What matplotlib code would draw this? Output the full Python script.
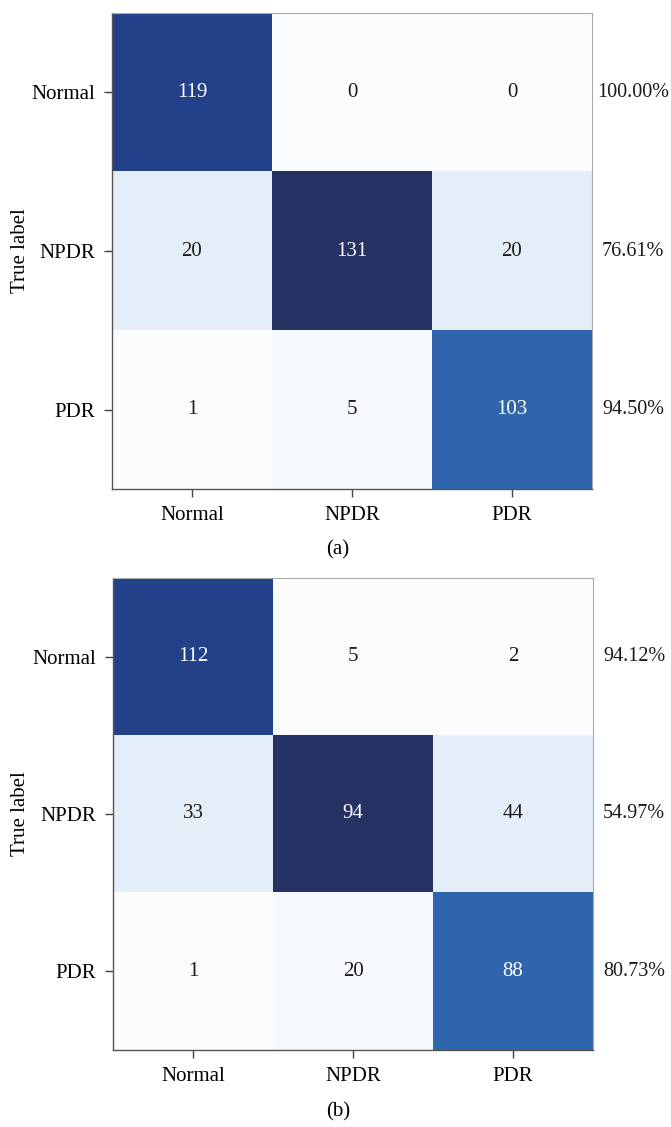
import numpy as np
import matplotlib
matplotlib.use("Agg")
import matplotlib.pyplot as plt
from matplotlib.colors import LinearSegmentedColormap

classes = ["Normal", "NPDR", "PDR"]

counts_a = [[119, 0, 0],
            [20, 131, 20],
            [1, 5, 103]]
recall_a = ["100.00%", "76.61%", "94.50%"]

counts_b = [[112, 5, 2],
            [33, 94, 44],
            [1, 20, 88]]
recall_b = ["94.12%", "54.97%", "80.73%"]

# shade intensity of each cell (same in both panels)
shade_a = [[0.88, 0.00, 0.00],
           [0.15, 1.00, 0.15],
           [0.00, 0.02, 0.75]]
shade_b = [[0.88, 0.00, 0.00],
           [0.15, 1.00, 0.15],
           [0.00, 0.02, 0.75]]

panel_labels = ["(a)", "(b)"]

plt.rcParams["font.family"] = ["Liberation Serif", "DejaVu Serif"]

cmap = LinearSegmentedColormap.from_list(
    "cm", [(0.0, "#fbfcfe"), (0.02, "#f6f9fe"), (0.15, "#e4eef8"),
           (0.75, "#2f66ad"), (0.88, "#22428a"), (1.0, "#263264")])

fig = plt.figure(figsize=(6.71, 11.27), dpi=100)
W, H = 671, 1127
rects = [(112, 13, 592, 489), (113, 578, 593, 1050)]
label_y = [550, 1112]
FS = 15

panels = [(counts_a, shade_a, recall_a), (counts_b, shade_b, recall_b)]
for k, ((cnt, shd, rec), (x0, y0, x1, y1)) in enumerate(zip(panels, rects)):
    ax = fig.add_axes([x0 / W, 1 - y1 / H, (x1 - x0) / W, (y1 - y0) / H])
    cnt = np.array(cnt)
    shd = np.array(shd)
    ax.imshow(shd, cmap=cmap, vmin=0, vmax=1, aspect="auto", interpolation="nearest")
    for i in range(3):
        for j in range(3):
            col = "white" if shd[i, j] > 0.5 else "#1a1a1a"
            ax.text(j, i, str(cnt[i, j]), ha="center", va="center", fontsize=FS, color=col)
        ax.text(1.086, 1 - (i + 0.5) / 3, rec[i], transform=ax.transAxes,
                ha="center", va="center", fontsize=14.5, color="#1a1a1a")
    ax.set_xticks(range(3))
    ax.set_yticks(range(3))
    ax.set_xticklabels(classes, fontsize=FS)
    ax.set_yticklabels(classes, fontsize=FS)
    ax.tick_params(length=6, width=1, color="#444444", pad=6)
    ax.set_ylabel("True label", fontsize=FS)
    ax.yaxis.set_label_coords((30 - x0) / (x1 - x0), 0.5)
    for s in ["left", "bottom"]:
        ax.spines[s].set_color("#555555")
        ax.spines[s].set_linewidth(1)
    for s in ["top", "right"]:
        ax.spines[s].set_color("#aaaaaa")
        ax.spines[s].set_linewidth(0.8)
    fig.text(338 / W, 1 - label_y[k] / H, panel_labels[k], ha="center", va="center", fontsize=FS)

fig.savefig("out.png", dpi=100)
